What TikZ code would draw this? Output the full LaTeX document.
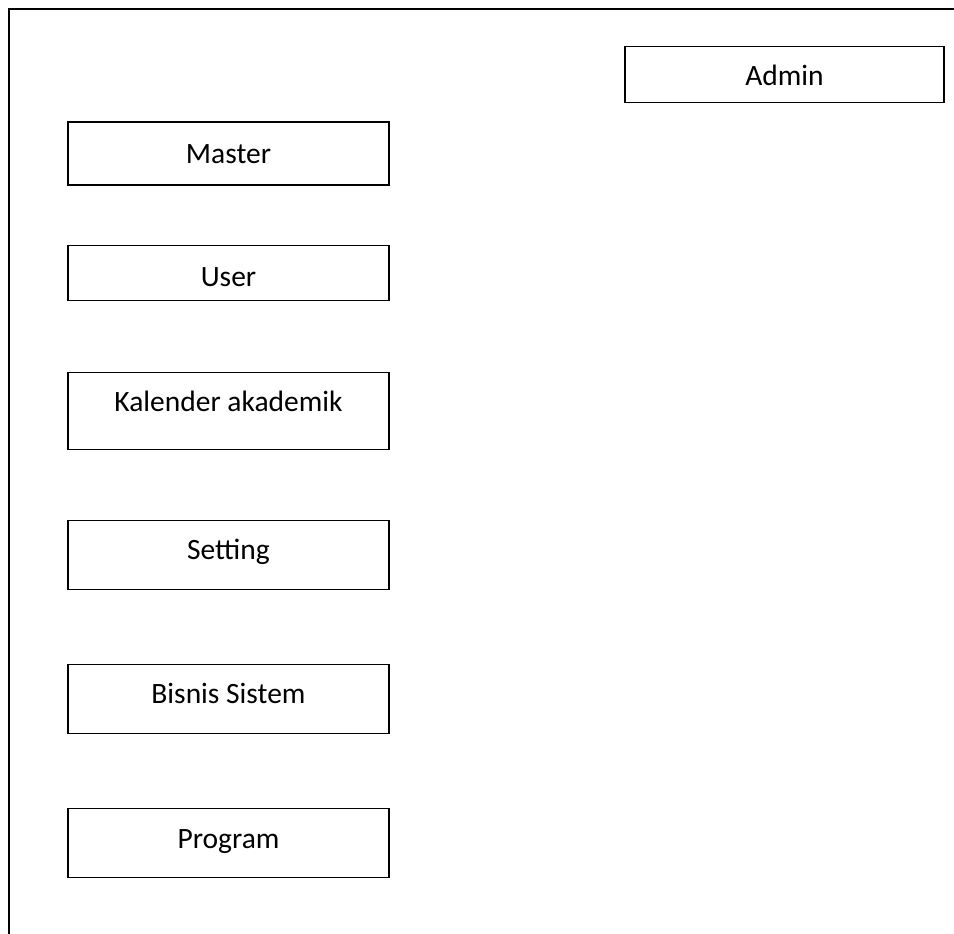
\documentclass[tikz,border=0pt]{standalone}
\usepackage{fontspec}
\setmainfont{Carlito}
\begin{document}
\begin{tikzpicture}[x=1pt,y=-1pt,
  boxshape/.style={draw=black,line width=1.8pt,inner sep=0pt,minimum width=#1},
  lbl/.style={anchor=base,inner sep=0pt,font=\fontsize{29.5}{35}\selectfont}]
\useasboundingbox (0,0) rectangle (954,934);
% frame (left and top edges)
\coordinate (ftop) at (954,9.5);
\coordinate (fcorner) at (8.5,9.5);
\coordinate (fbot) at (8.5,934);
\draw[line width=2pt] (ftop) -- (fcorner) -- (fbot);
% boxes
\node[boxshape=319pt,minimum height=56pt] (admin) at (784.5,74.5) {};
\node[boxshape=321pt,minimum height=63pt] (master) at (228.5,153.5) {};
\node[boxshape=321pt,minimum height=55pt] (user) at (228.5,273) {};
\node[boxshape=321pt,minimum height=77pt] (kal) at (228.5,411) {};
\node[boxshape=321pt,minimum height=69pt] (set) at (228.5,555) {};
\node[boxshape=321pt,minimum height=69pt] (bis) at (228.5,699) {};
\node[boxshape=321pt,minimum height=69pt] (prog) at (228.5,843) {};
% labels
\node[lbl] (tadmin) at (784.5,86) {Admin};
\node[lbl] (tmaster) at (228.5,163) {Master};
\node[lbl] (tuser) at (228.5,286) {User};
\node[lbl] (tkal) at (228.5,411) {Kalender akademik};
\node[lbl] (tset) at (228.5,559) {Setting};
\node[lbl] (tbis) at (228.5,703) {Bisnis Sistem};
\node[lbl] (tprog) at (228.5,848) {Program};
\end{tikzpicture}
\end{document}
